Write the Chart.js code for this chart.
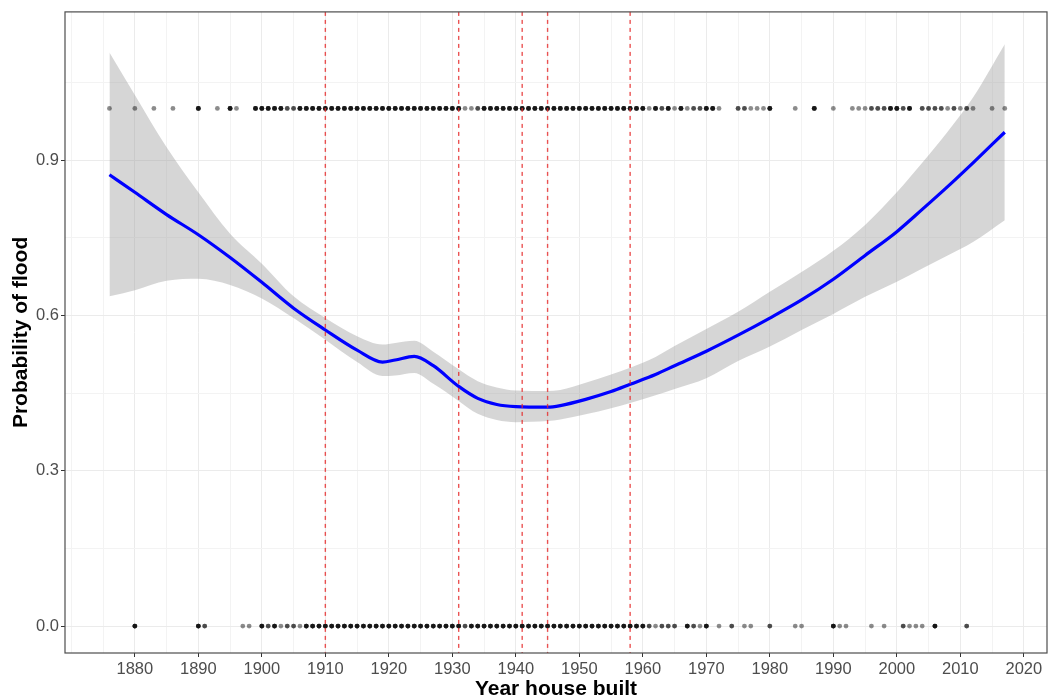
<!DOCTYPE html>
<html>
<head>
<meta charset="utf-8">
<script src="https://cdn.jsdelivr.net/npm/chart.js@4.4.1/dist/chart.umd.min.js"></script>
<style>
  body { margin: 0; background: #fff; }
  #wrap { width: 1056px; height: 700px; }
</style>
</head>
<body>
<div id="wrap"><canvas id="chart" width="1056" height="700"></canvas></div>
<script>
// smoothed fit and its confidence band
const fitYears = [1876, 1880, 1885, 1890, 1895, 1900, 1905, 1910, 1915, 1919, 1921, 1924, 1927, 1931, 1934, 1937, 1940, 1945, 1947, 1951, 1955, 1958, 1962, 1965, 1970, 1975, 1980, 1985, 1990, 1995, 2000, 2004, 2008, 2012, 2017];
const fitValues = [0.872, 0.838, 0.795, 0.756, 0.712, 0.664, 0.614, 0.572, 0.533, 0.510, 0.514, 0.521, 0.503, 0.463, 0.440, 0.428, 0.424, 0.423, 0.426, 0.438, 0.453, 0.467, 0.486, 0.503, 0.531, 0.562, 0.595, 0.630, 0.670, 0.716, 0.762, 0.805, 0.849, 0.895, 0.954];
const ciUpper = [1.108, 1.026, 0.925, 0.838, 0.758, 0.700, 0.637, 0.595, 0.560, 0.544, 0.547, 0.551, 0.530, 0.496, 0.473, 0.461, 0.455, 0.454, 0.456, 0.470, 0.486, 0.499, 0.520, 0.541, 0.574, 0.607, 0.646, 0.684, 0.725, 0.775, 0.838, 0.895, 0.955, 1.021, 1.124];
const ciLower = [0.637, 0.649, 0.667, 0.671, 0.659, 0.633, 0.595, 0.553, 0.510, 0.483, 0.484, 0.489, 0.468, 0.435, 0.410, 0.398, 0.394, 0.396, 0.399, 0.409, 0.421, 0.431, 0.446, 0.458, 0.479, 0.512, 0.540, 0.572, 0.603, 0.636, 0.665, 0.691, 0.716, 0.742, 0.784];

// houses that flooded (y = 1): year built and how many sit on the same spot
const floodYears = [
  1876, 1880, 1883, 1886, 1890, 1893, 1895, 1896,
  1899, 1900, 1901, 1902, 1903, 1904, 1905, 1906, 1907, 1908, 1909,
  1910, 1911, 1912, 1913, 1914, 1915, 1916, 1917, 1918, 1919,
  1920, 1921, 1922, 1923, 1924, 1925, 1926, 1927, 1928, 1929,
  1930, 1931, 1932, 1933, 1934, 1935, 1936, 1937, 1938, 1939,
  1940, 1941, 1942, 1943, 1944, 1945, 1946, 1947, 1948, 1949,
  1950, 1951, 1952, 1953, 1954, 1955, 1956, 1957, 1958, 1959,
  1960, 1961, 1962, 1963, 1964, 1965, 1966, 1967, 1968, 1969,
  1970, 1971, 1972, 1975, 1976, 1977, 1978, 1979,
  1980, 1984, 1987, 1990, 1993, 1994, 1995, 1996, 1997, 1998, 1999,
  2000, 2001, 2002, 2004, 2005, 2006, 2007, 2008, 2009,
  2010, 2011, 2012, 2015, 2017
];
const floodCounts = [
  1, 1, 1, 1, 4, 1, 4, 1,
  4, 4, 4, 4, 4, 2, 2, 4, 4, 4, 4,
  4, 4, 4, 4, 4, 4, 4, 4, 4, 4,
  4, 4, 4, 4, 4, 4, 4, 4, 4, 4,
  4, 4, 1, 1, 2, 4, 4, 4, 4, 4,
  4, 4, 4, 4, 4, 4, 4, 4, 4, 4,
  4, 4, 4, 4, 4, 4, 4, 4, 4, 4,
  4, 1, 4, 2, 4, 1, 4, 1, 2, 2,
  4, 4, 1, 2, 2, 1, 1, 1,
  4, 1, 4, 1, 1, 1, 1, 2, 2, 2, 4,
  4, 2, 4, 2, 2, 2, 2, 1, 2,
  1, 2, 1, 1, 1
];

// houses that did not flood (y = 0)
const dryYears = [
  1880, 1890, 1891, 1897, 1898,
  1900, 1901, 1902, 1903, 1904, 1905, 1906, 1907, 1908, 1909,
  1910, 1911, 1912, 1913, 1914, 1915, 1916, 1917, 1918, 1919,
  1920, 1921, 1922, 1923, 1924, 1925, 1926, 1927, 1928, 1929,
  1930, 1931, 1932, 1933, 1934, 1935, 1936, 1937, 1938, 1939,
  1940, 1941, 1942, 1943, 1944, 1945, 1946, 1947, 1948, 1949,
  1950, 1951, 1952, 1953, 1954, 1955, 1956, 1957, 1958, 1959,
  1960, 1961, 1962, 1963, 1964, 1965, 1967, 1968, 1969,
  1970, 1972, 1974, 1976, 1977, 1980, 1984, 1985,
  1990, 1991, 1992, 1996, 1998, 2001, 2002, 2003, 2004, 2006, 2011
];
const dryCounts = [
  4, 4, 2, 1, 1,
  4, 2, 4, 1, 2, 2, 1, 4, 4, 4,
  4, 4, 4, 4, 4, 4, 4, 4, 4, 4,
  4, 4, 4, 4, 4, 4, 4, 4, 4, 4,
  4, 4, 2, 4, 4, 4, 4, 4, 4, 4,
  4, 4, 4, 4, 4, 4, 4, 4, 4, 4,
  4, 4, 4, 4, 4, 4, 4, 4, 4, 4,
  4, 2, 1, 2, 2, 2, 4, 2, 1,
  4, 1, 2, 1, 1, 2, 1, 1,
  4, 1, 1, 1, 1, 2, 1, 1, 1, 4, 2
];

// dashed reference years
const cutYears = [1910, 1931, 1941, 1945, 1958];

// axis ticks (grid lines) and the ones that carry a label
const xTicks = [1870, 1875, 1880, 1885, 1890, 1895, 1900, 1905, 1910, 1915, 1920, 1925, 1930, 1935, 1940, 1945, 1950, 1955, 1960, 1965, 1970, 1975, 1980, 1985, 1990, 1995, 2000, 2005, 2010, 2015, 2020];
const xLabels = [1880, 1890, 1900, 1910, 1920, 1930, 1940, 1950, 1960, 1970, 1980, 1990, 2000, 2010, 2020];
const yTicks = [0, 0.15, 0.3, 0.45, 0.6, 0.75, 0.9, 1.05];
const yLabels = [0, 0.3, 0.6, 0.9];

const isXMajor = v => xLabels.includes(v);
const isYMajor = v => yLabels.some(l => Math.abs(l - v) < 1e-6);

function pile(years, counts, y) {
    const pts = [];
    years.forEach((yr, i) => {
        for (let k = 0; k < counts[i]; k++) pts.push({ x: yr, y: y });
    });
    return pts;
}

const font = "'Liberation Sans', Arial, sans-serif";

const panelPlugin = {
    id: 'panel',
    afterDatasetsDraw(chart) {
        const { ctx, chartArea: a, scales: { x } } = chart;
        ctx.save();
        ctx.strokeStyle = 'rgba(230, 40, 40, 0.8)';
        ctx.lineWidth = 1.4;
        ctx.setLineDash([4, 4]);
        cutYears.forEach(yr => {
            const px = x.getPixelForValue(yr);
            ctx.beginPath();
            ctx.moveTo(px, a.top);
            ctx.lineTo(px, a.bottom);
            ctx.stroke();
        });
        ctx.setLineDash([]);
        ctx.strokeStyle = '#4d4d4d';
        ctx.lineWidth = 1.2;
        ctx.strokeRect(a.left, a.top, a.right - a.left, a.bottom - a.top);
        ctx.restore();
    }
};

new Chart(document.getElementById('chart'), {
    type: 'line',
    data: {
        datasets: [
            {
                label: 'upper',
                data: fitYears.map((yr, i) => ({ x: yr, y: ciUpper[i] })),
                borderWidth: 0,
                pointRadius: 0,
                fill: '+1',
                backgroundColor: 'rgba(153, 153, 153, 0.4)',
                cubicInterpolationMode: 'monotone',
                order: 5
            },
            {
                label: 'lower',
                data: fitYears.map((yr, i) => ({ x: yr, y: ciLower[i] })),
                borderWidth: 0,
                pointRadius: 0,
                fill: false,
                cubicInterpolationMode: 'monotone',
                order: 4
            },
            {
                label: 'flooded',
                type: 'scatter',
                data: pile(floodYears, floodCounts, 1).concat(pile(dryYears, dryCounts, 0)),
                pointRadius: 2.4,
                pointBorderWidth: 0,
                pointBackgroundColor: 'rgba(0, 0, 0, 0.45)',
                showLine: false,
                order: 3
            },
            {
                label: 'fit',
                data: fitYears.map((yr, i) => ({ x: yr, y: fitValues[i] })),
                borderColor: '#0000ff',
                borderWidth: 3.2,
                pointRadius: 0,
                fill: false,
                cubicInterpolationMode: 'monotone',
                order: 1
            }
        ]
    },
    options: {
        responsive: false,
        animation: false,
        layout: { padding: { top: 9, right: 9, left: 0, bottom: 0 } },
        plugins: {
            legend: { display: false },
            tooltip: { enabled: false }
        },
        scales: {
            x: {
                type: 'linear',
                min: 1869,
                max: 2023.65,
                afterBuildTicks: s => { s.ticks = xTicks.map(v => ({ value: v })); },
                afterFit: s => { s.height = 47; },
                border: { display: false },
                grid: {
                    color: c => isXMajor(c.tick.value) ? '#ebebeb' : '#f3f3f3',
                    lineWidth: 1,
                    tickLength: 4,
                    tickColor: c => isXMajor(c.tick.value) ? '#333333' : 'rgba(0,0,0,0)'
                },
                ticks: {
                    autoSkip: false,
                    maxRotation: 0,
                    padding: 3,
                    color: '#4d4d4d',
                    font: { family: font, size: 16.5 },
                    callback: v => isXMajor(v) ? String(v) : ''
                },
                title: {
                    display: true,
                    text: 'Year house built',
                    color: '#000',
                    font: { family: font, size: 21, weight: 'bold' },
                    padding: { top: 0, bottom: -2 }
                }
            },
            y: {
                type: 'linear',
                min: -0.052,
                max: 1.1865,
                afterBuildTicks: s => { s.ticks = yTicks.map(v => ({ value: v })); },
                afterFit: s => { s.width = 65; },
                border: { display: false },
                grid: {
                    color: c => isYMajor(c.tick.value) ? '#ebebeb' : '#f3f3f3',
                    lineWidth: 1,
                    tickLength: 4,
                    tickColor: c => isYMajor(c.tick.value) ? '#333333' : 'rgba(0,0,0,0)'
                },
                ticks: {
                    padding: 2,
                    color: '#4d4d4d',
                    font: { family: font, size: 16.5 },
                    callback: v => isYMajor(v) ? v.toFixed(1) : ''
                },
                title: {
                    display: true,
                    text: 'Probability of flood',
                    color: '#000',
                    font: { family: font, size: 21, weight: 'bold' },
                    padding: { top: 9, bottom: 0 }
                }
            }
        }
    },
    plugins: [panelPlugin]
});
</script>
</body>
</html>
